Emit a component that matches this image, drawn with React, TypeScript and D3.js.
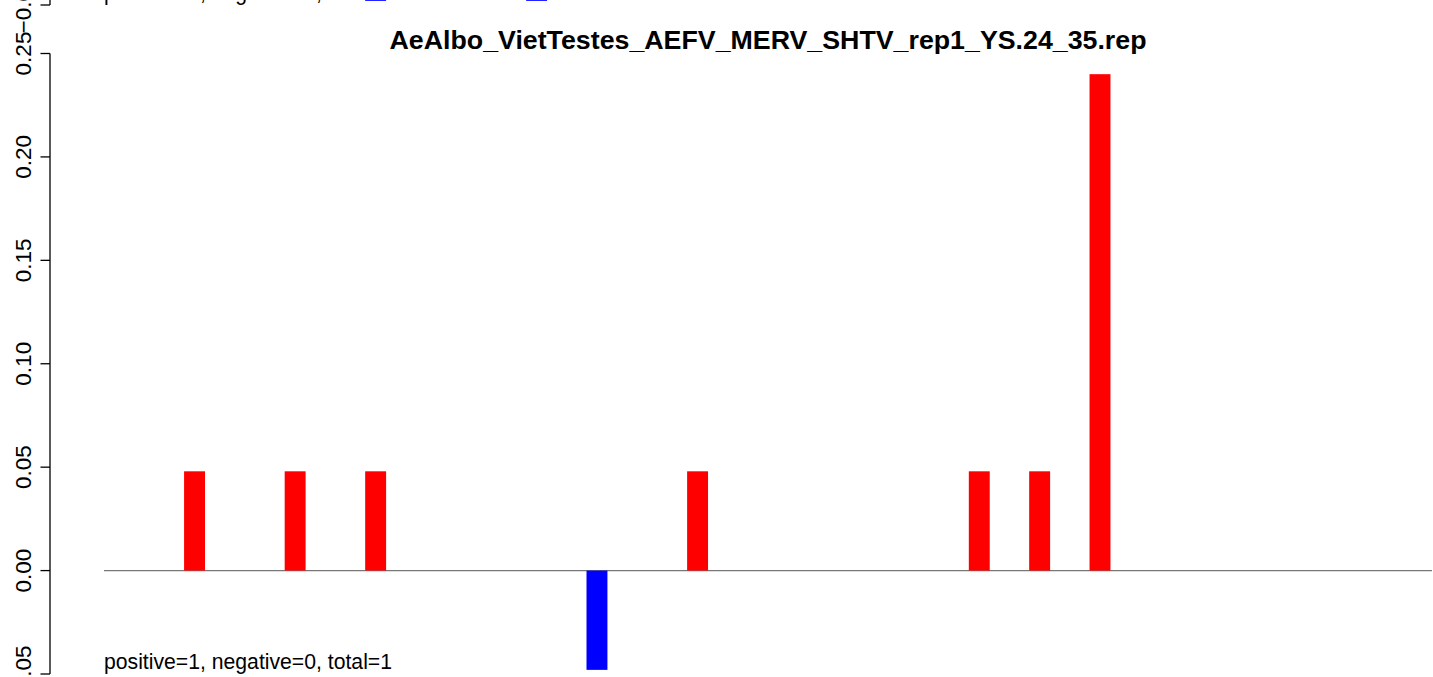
import * as React from 'react';
import * as d3 from 'd3';

const useMemo = React.useMemo;

// bar positions (read length index) and normalised values
const positions = [5, 10, 14, 25, 30, 44, 47, 50];
const values = [0.048, 0.048, 0.048, -0.048, 0.048, 0.048, 0.048, 0.24];
// panel above (only its lowest strip is visible)
const prevPositions = [14, 22];
const prevValues = [-0.048, -0.048];

const yTicks = [-0.05, 0, 0.05, 0.1, 0.15, 0.2, 0.25];
const title = 'AeAlbo_VietTestes_AEFV_MERV_SHTV_rep1_YS.24_35.rep';
const summary = 'positive=1, negative=0, total=1';
const prevSummary = 'positive=0, negative=0, total=0';

const W = 1433;
const H = 677;
const PANEL_SHIFT = 669;
const FONT = '"Liberation Sans", Arial, Helvetica, sans-serif';

function Panel(props: {
  dy: number;
  pos: number[];
  vals: number[];
  label: string;
  heading?: string;
}) {
  const { dy, pos, vals, label, heading } = props;
  const x = useMemo(() => d3.scaleLinear().domain([0.5, 66.5]).range([104, 1432]), []);
  const y = useMemo(() => d3.scaleLinear().domain([-0.05, 0.25]).range([674, 53.5]), []);
  const bw = x(1.04) - x(0);
  const axisX = 50;

  return (
    <g transform={`translate(0,${dy})`} fontFamily={FONT}>
      {heading && (
        <text
          x={(x(0.5) + x(66.5)) / 2}
          y={49}
          textAnchor="middle"
          fontWeight="bold"
          fontSize="26.5"
          textLength={757}
          lengthAdjust="spacingAndGlyphs"
        >
          {heading}
        </text>
      )}
      {/* y axis */}
      <line x1={axisX} x2={axisX} y1={y(-0.05)} y2={y(0.25)} stroke="black" strokeWidth={1.3} />
      {yTicks.map(t => (
        <g key={t}>
          <line x1={axisX - 9.5} x2={axisX} y1={y(t)} y2={y(t)} stroke="black" strokeWidth={1.3} />
          <text
            transform={`translate(${axisX - 19},${y(t)}) rotate(-90)`}
            textAnchor="middle"
            fontSize="22.5"
          >
            {t < 0 ? '\u2212' + d3.format('.2f')(-t) : d3.format('.2f')(t)}
          </text>
        </g>
      ))}
      {/* baseline */}
      <line x1={x(0.5)} x2={x(66.5)} y1={y(0)} y2={y(0)} stroke="#777" strokeWidth={1.4} />
      {pos.map((p, i) => (
        <rect
          key={p}
          x={x(p) - bw / 2}
          width={bw}
          y={vals[i] >= 0 ? y(vals[i]) : y(0)}
          height={Math.abs(y(vals[i]) - y(0))}
          fill={vals[i] >= 0 ? '#ff0000' : '#0000ff'}
        />
      ))}
      <text x={x(0.5)} y={669} fontSize="21.2">
        {label}
      </text>
    </g>
  );
}

export default function App() {
  return (
    <svg
      width={W}
      height={H}
      style={{ position: 'absolute', left: 0, top: 0, background: 'white' }}
    >
      <rect width={W} height={H} fill="white" />
      <Panel dy={-PANEL_SHIFT} pos={prevPositions} vals={prevValues} label={prevSummary} />
      <Panel dy={0} pos={positions} vals={values} label={summary} heading={title} />
    </svg>
  );
}
